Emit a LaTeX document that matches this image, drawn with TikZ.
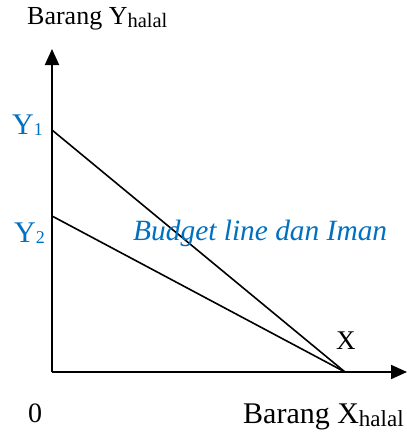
\documentclass[tikz,border=0pt]{standalone}
\usepackage{fontspec}
\setmainfont{Liberation Serif}
\usetikzlibrary{arrows.meta}
\definecolor{lblblue}{RGB}{0,112,192}
\tikzset{
  axis/.style={line width=2pt,-{Triangle[length=16pt,width=14pt]}},
  bline/.style={line width=1.6pt},
  lbl/.style={inner sep=0pt,anchor=base west},
  bluelbl/.style={lbl,text=lblblue}
}
\newcommand{\fs}[1]{\fontsize{#1pt}{#1pt}\selectfont}
\begin{document}
\begin{tikzpicture}[x=1pt,y=-1pt]
\useasboundingbox (0,0) rectangle (407,432);
\coordinate (O) at (52,372);
\coordinate (ytip) at (52,49);
\coordinate (xtip) at (407,372);
\coordinate (Y1) at (52,130);
\coordinate (Y2) at (52,216);
\coordinate (X) at (345,372);
\draw[axis] (O) -- (ytip);
\draw[axis] (O) -- (xtip);
\draw[bline] (Y1) -- (X);
\draw[bline] (Y2) -- (X);
\node[lbl] (ylab) at (27,24) {\fs{26}Barang Y\raisebox{-3pt}{\fs{20.5}halal}};
\node[lbl] (xlab) at (243,423) {\fs{30}Barang X\raisebox{-3pt}{\fs{23}halal}};
\node[lbl] (zero) at (28,422) {\fs{28}0};
\node[lbl] (xl) at (336,349) {\fs{27}X};
\node[bluelbl] (y1l) at (12,134) {\fs{30}Y\raisebox{-1pt}{\fs{18}1}};
\node[bluelbl] (y2l) at (14,242) {\fs{30}Y\raisebox{-1pt}{\fs{18}2}};
\node[bluelbl] (bud) at (133,240) {\fs{29.4}\itshape Budget line dan Iman};
\end{tikzpicture}
\end{document}
